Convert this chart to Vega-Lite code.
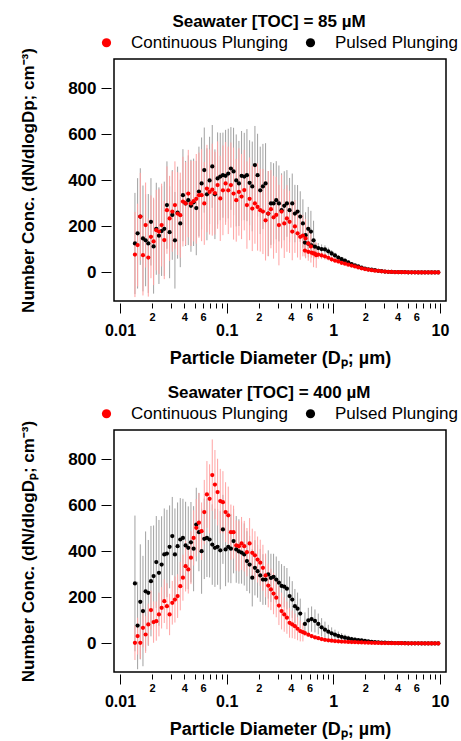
{
"$schema": "https://vega.github.io/schema/vega-lite/v6.json",
"background": "white",
"padding": {"left": 18, "top": 12, "right": 5, "bottom": 5},
"spacing": 15,
"config": {"view": {"stroke": "black", "strokeWidth": 1.5}},
"resolve": {"scale": {"color": "independent"}, "legend": {"color": "independent"}},
"datasets": {
"a": [
{"s":"P","d":0.0138,"y":126,"e":220},{"s":"P","d":0.01462,"y":170,"e":240},{"s":"P","d":0.01549,"y":243,"e":210},{"s":"P","d":0.01641,"y":148,"e":230},{"s":"P","d":0.01738,"y":140,"e":200},{"s":"P","d":0.01841,"y":126,"e":215},{"s":"P","d":0.0195,"y":220,"e":190},{"s":"P","d":0.02065,"y":113,"e":205},{"s":"P","d":0.02188,"y":190,"e":200},{"s":"P","d":0.02317,"y":160,"e":210},{"s":"P","d":0.02455,"y":180,"e":195},{"s":"P","d":0.026,"y":190,"e":205},{"s":"P","d":0.02754,"y":293,"e":190},{"s":"P","d":0.02917,"y":175,"e":200},{"s":"P","d":0.0309,"y":250,"e":195},{"s":"P","d":0.03273,"y":140,"e":210},{"s":"P","d":0.03467,"y":260,"e":200},{"s":"P","d":0.03673,"y":213,"e":190},{"s":"P","d":0.0389,"y":336,"e":200},{"s":"P","d":0.04121,"y":300,"e":185},{"s":"P","d":0.04365,"y":314,"e":195},{"s":"P","d":0.04624,"y":290,"e":200},{"s":"P","d":0.04898,"y":305,"e":190},{"s":"P","d":0.05188,"y":280,"e":205},{"s":"P","d":0.05495,"y":352,"e":195},{"s":"P","d":0.05821,"y":387,"e":200},{"s":"P","d":0.06166,"y":445,"e":185},{"s":"P","d":0.06531,"y":340,"e":200},{"s":"P","d":0.06918,"y":400,"e":190},{"s":"P","d":0.07328,"y":461,"e":180},{"s":"P","d":0.07762,"y":340,"e":195},{"s":"P","d":0.08222,"y":409,"e":200},{"s":"P","d":0.0871,"y":417,"e":190},{"s":"P","d":0.09226,"y":423,"e":185},{"s":"P","d":0.09772,"y":420,"e":200},{"s":"P","d":0.1035,"y":430,"e":195},{"s":"P","d":0.1096,"y":452,"e":180},{"s":"P","d":0.1161,"y":439,"e":190},{"s":"P","d":0.123,"y":400,"e":200},{"s":"P","d":0.1303,"y":387,"e":185},{"s":"P","d":0.138,"y":420,"e":195},{"s":"P","d":0.1462,"y":417,"e":190},{"s":"P","d":0.1549,"y":423,"e":200},{"s":"P","d":0.1641,"y":390,"e":185},{"s":"P","d":0.1738,"y":374,"e":195},{"s":"P","d":0.1841,"y":467,"e":170},{"s":"P","d":0.195,"y":423,"e":180},{"s":"P","d":0.2065,"y":357,"e":190},{"s":"P","d":0.2188,"y":374,"e":185},{"s":"P","d":0.2317,"y":387,"e":175},{"s":"P","d":0.2455,"y":256,"e":185},{"s":"P","d":0.26,"y":300,"e":180},{"s":"P","d":0.2754,"y":300,"e":175},{"s":"P","d":0.2917,"y":314,"e":170},{"s":"P","d":0.309,"y":300,"e":165},{"s":"P","d":0.3273,"y":271,"e":160},{"s":"P","d":0.3467,"y":290,"e":150},{"s":"P","d":0.3673,"y":300,"e":145},{"s":"P","d":0.389,"y":271,"e":140},{"s":"P","d":0.4121,"y":300,"e":130},{"s":"P","d":0.4365,"y":256,"e":125},{"s":"P","d":0.4624,"y":265,"e":115},{"s":"P","d":0.4898,"y":243,"e":110},{"s":"P","d":0.5188,"y":213,"e":105},{"s":"P","d":0.5495,"y":162,"e":100},{"s":"P","d":0.5821,"y":190,"e":95},{"s":"P","d":0.6166,"y":178,"e":90},{"s":"P","d":0.6531,"y":140,"e":85},
{"s":"P","d":0.542,"y":130,"e":30},{"s":"P","d":0.583,"y":125,"e":28},{"s":"P","d":0.626,"y":118,"e":26},{"s":"P","d":0.673,"y":112,"e":24},{"s":"P","d":0.723,"y":106,"e":22},{"s":"P","d":0.777,"y":102,"e":20},{"s":"P","d":0.835,"y":100,"e":18},{"s":"P","d":0.898,"y":92,"e":16},{"s":"P","d":0.965,"y":83,"e":14},{"s":"P","d":1.037,"y":74,"e":12},{"s":"P","d":1.114,"y":65,"e":11},{"s":"P","d":1.197,"y":58,"e":10},{"s":"P","d":1.286,"y":52,"e":9},{"s":"P","d":1.382,"y":44,"e":8},{"s":"P","d":1.486,"y":36,"e":7},{"s":"P","d":1.596,"y":31,"e":6},{"s":"P","d":1.715,"y":26,"e":5},{"s":"P","d":1.843,"y":21,"e":4},{"s":"P","d":1.981,"y":17,"e":3},{"s":"P","d":2.129,"y":14,"e":3},{"s":"P","d":2.288,"y":12,"e":2},{"s":"P","d":2.458,"y":10,"e":2},{"s":"P","d":2.642,"y":7,"e":2},{"s":"P","d":2.839,"y":5.5,"e":1},{"s":"P","d":3.051,"y":4,"e":1},{"s":"P","d":3.278,"y":3,"e":1},{"s":"P","d":3.523,"y":2.4,"e":1},{"s":"P","d":3.786,"y":1.9,"e":0.5},{"s":"P","d":4.068,"y":1.5,"e":0.5},{"s":"P","d":4.371,"y":1.2,"e":0.5},{"s":"P","d":4.698,"y":1,"e":0.4},{"s":"P","d":5.048,"y":0.8,"e":0.3},{"s":"P","d":5.425,"y":0.6,"e":0.3},{"s":"P","d":5.829,"y":0.5,"e":0.2},{"s":"P","d":6.264,"y":0.4,"e":0.2},{"s":"P","d":6.732,"y":0.3,"e":0.2},{"s":"P","d":7.234,"y":0.3,"e":0.1},{"s":"P","d":7.774,"y":0.2,"e":0.1},{"s":"P","d":8.354,"y":0.2,"e":0.1},{"s":"P","d":8.977,"y":0.1,"e":0.1},{"s":"P","d":9.647,"y":0.1,"e":0.1},
{"s":"C","d":0.0138,"y":78,"e":185},{"s":"C","d":0.01462,"y":119,"e":180},{"s":"C","d":0.01549,"y":243,"e":190},{"s":"C","d":0.01641,"y":75,"e":175},{"s":"C","d":0.01738,"y":206,"e":185},{"s":"C","d":0.01841,"y":65,"e":170},{"s":"C","d":0.0195,"y":155,"e":180},{"s":"C","d":0.02065,"y":135,"e":190},{"s":"C","d":0.02188,"y":184,"e":175},{"s":"C","d":0.02317,"y":178,"e":185},{"s":"C","d":0.02455,"y":206,"e":180},{"s":"C","d":0.026,"y":141,"e":170},{"s":"C","d":0.02754,"y":271,"e":190},{"s":"C","d":0.02917,"y":235,"e":185},{"s":"C","d":0.0309,"y":265,"e":175},{"s":"C","d":0.03273,"y":293,"e":190},{"s":"C","d":0.03467,"y":256,"e":180},{"s":"C","d":0.03673,"y":249,"e":185},{"s":"C","d":0.0389,"y":308,"e":195},{"s":"C","d":0.04121,"y":300,"e":180},{"s":"C","d":0.04365,"y":343,"e":190},{"s":"C","d":0.04624,"y":300,"e":185},{"s":"C","d":0.04898,"y":310,"e":175},{"s":"C","d":0.05188,"y":320,"e":195},{"s":"C","d":0.05495,"y":336,"e":185},{"s":"C","d":0.05821,"y":336,"e":200},{"s":"C","d":0.06166,"y":300,"e":180},{"s":"C","d":0.06531,"y":365,"e":190},{"s":"C","d":0.06918,"y":350,"e":185},{"s":"C","d":0.07328,"y":360,"e":200},{"s":"C","d":0.07762,"y":345,"e":180},{"s":"C","d":0.08222,"y":380,"e":190},{"s":"C","d":0.0871,"y":322,"e":185},{"s":"C","d":0.09226,"y":357,"e":195},{"s":"C","d":0.09772,"y":387,"e":180},{"s":"C","d":0.1035,"y":357,"e":190},{"s":"C","d":0.1096,"y":380,"e":185},{"s":"C","d":0.1161,"y":343,"e":200},{"s":"C","d":0.123,"y":314,"e":180},{"s":"C","d":0.1303,"y":350,"e":190},{"s":"C","d":0.138,"y":330,"e":185},{"s":"C","d":0.1462,"y":358,"e":175},{"s":"C","d":0.1549,"y":293,"e":190},{"s":"C","d":0.1641,"y":320,"e":180},{"s":"C","d":0.1738,"y":278,"e":185},{"s":"C","d":0.1841,"y":300,"e":175},{"s":"C","d":0.195,"y":285,"e":190},{"s":"C","d":0.2065,"y":271,"e":180},{"s":"C","d":0.2188,"y":265,"e":185},{"s":"C","d":0.2317,"y":227,"e":175},{"s":"C","d":0.2455,"y":256,"e":185},{"s":"C","d":0.26,"y":275,"e":170},{"s":"C","d":0.2754,"y":240,"e":180},{"s":"C","d":0.2917,"y":250,"e":165},{"s":"C","d":0.309,"y":206,"e":175},{"s":"C","d":0.3273,"y":265,"e":160},{"s":"C","d":0.3467,"y":213,"e":150},{"s":"C","d":0.3673,"y":235,"e":145},{"s":"C","d":0.389,"y":220,"e":135},{"s":"C","d":0.4121,"y":178,"e":125},{"s":"C","d":0.4365,"y":200,"e":115},{"s":"C","d":0.4624,"y":170,"e":105},{"s":"C","d":0.4898,"y":155,"e":100},{"s":"C","d":0.5188,"y":160,"e":90},{"s":"C","d":0.5495,"y":148,"e":85},{"s":"C","d":0.5821,"y":126,"e":75},{"s":"C","d":0.6166,"y":113,"e":70},{"s":"C","d":0.6531,"y":83,"e":60},{"s":"C","d":0.6918,"y":75,"e":55},
{"s":"C","d":0.542,"y":95,"e":25},{"s":"C","d":0.583,"y":90,"e":24},{"s":"C","d":0.626,"y":86,"e":22},{"s":"C","d":0.673,"y":82,"e":20},{"s":"C","d":0.723,"y":78,"e":18},{"s":"C","d":0.777,"y":74,"e":16},{"s":"C","d":0.835,"y":70,"e":14},{"s":"C","d":0.898,"y":64,"e":12},{"s":"C","d":0.965,"y":57,"e":11},{"s":"C","d":1.037,"y":52,"e":10},{"s":"C","d":1.114,"y":48,"e":9},{"s":"C","d":1.197,"y":42,"e":8},{"s":"C","d":1.286,"y":38,"e":7},{"s":"C","d":1.382,"y":34,"e":6},{"s":"C","d":1.486,"y":30,"e":5},{"s":"C","d":1.596,"y":26,"e":5},{"s":"C","d":1.715,"y":22,"e":4},{"s":"C","d":1.843,"y":18,"e":4},{"s":"C","d":1.981,"y":15,"e":3},{"s":"C","d":2.129,"y":12,"e":3},{"s":"C","d":2.288,"y":10,"e":2},{"s":"C","d":2.458,"y":8,"e":2},{"s":"C","d":2.642,"y":7,"e":2},{"s":"C","d":2.839,"y":5,"e":1},{"s":"C","d":3.051,"y":4,"e":1},{"s":"C","d":3.278,"y":3,"e":1},{"s":"C","d":3.523,"y":2.5,"e":1},{"s":"C","d":3.786,"y":2,"e":1},{"s":"C","d":4.068,"y":1.5,"e":0.5},{"s":"C","d":4.371,"y":1.2,"e":0.5},{"s":"C","d":4.698,"y":1,"e":0.5},{"s":"C","d":5.048,"y":0.8,"e":0.4},{"s":"C","d":5.425,"y":0.6,"e":0.3},{"s":"C","d":5.829,"y":0.5,"e":0.3},{"s":"C","d":6.264,"y":0.4,"e":0.2},{"s":"C","d":6.732,"y":0.3,"e":0.2},{"s":"C","d":7.234,"y":0.3,"e":0.2},{"s":"C","d":7.774,"y":0.2,"e":0.1},{"s":"C","d":8.354,"y":0.2,"e":0.1},{"s":"C","d":8.977,"y":0.1,"e":0.1},{"s":"C","d":9.647,"y":0.1,"e":0.1}
],
"b": [
{"s":"P","d":0.0138,"y":261,"e":295},{"s":"P","d":0.01462,"y":78,"e":190},{"s":"P","d":0.01549,"y":181,"e":250},{"s":"P","d":0.01641,"y":141,"e":240},{"s":"P","d":0.01738,"y":227,"e":260},{"s":"P","d":0.01841,"y":220,"e":230},{"s":"P","d":0.0195,"y":271,"e":240},{"s":"P","d":0.02065,"y":293,"e":220},{"s":"P","d":0.02188,"y":354,"e":200},{"s":"P","d":0.02317,"y":307,"e":230},{"s":"P","d":0.02455,"y":343,"e":210},{"s":"P","d":0.026,"y":387,"e":200},{"s":"P","d":0.02754,"y":391,"e":190},{"s":"P","d":0.02917,"y":420,"e":180},{"s":"P","d":0.0309,"y":467,"e":170},{"s":"P","d":0.03273,"y":387,"e":200},{"s":"P","d":0.03467,"y":423,"e":190},{"s":"P","d":0.03673,"y":452,"e":180},{"s":"P","d":0.0389,"y":459,"e":170},{"s":"P","d":0.04121,"y":426,"e":190},{"s":"P","d":0.04365,"y":416,"e":180},{"s":"P","d":0.04624,"y":440,"e":175},{"s":"P","d":0.04898,"y":412,"e":185},{"s":"P","d":0.05188,"y":517,"e":160},{"s":"P","d":0.05495,"y":484,"e":170},{"s":"P","d":0.05821,"y":401,"e":185},{"s":"P","d":0.06166,"y":455,"e":175},{"s":"P","d":0.06531,"y":459,"e":170},{"s":"P","d":0.06918,"y":452,"e":165},{"s":"P","d":0.07328,"y":430,"e":175},{"s":"P","d":0.07762,"y":416,"e":170},{"s":"P","d":0.08222,"y":420,"e":165},{"s":"P","d":0.0871,"y":405,"e":170},{"s":"P","d":0.09226,"y":496,"e":150},{"s":"P","d":0.09772,"y":409,"e":160},{"s":"P","d":0.1035,"y":420,"e":155},{"s":"P","d":0.1096,"y":412,"e":150},{"s":"P","d":0.1161,"y":445,"e":140},{"s":"P","d":0.123,"y":409,"e":145},{"s":"P","d":0.1303,"y":400,"e":140},{"s":"P","d":0.138,"y":395,"e":135},{"s":"P","d":0.1462,"y":387,"e":135},{"s":"P","d":0.1549,"y":358,"e":130},{"s":"P","d":0.1641,"y":343,"e":125},{"s":"P","d":0.1738,"y":286,"e":125},{"s":"P","d":0.1841,"y":329,"e":120},{"s":"P","d":0.195,"y":314,"e":115},{"s":"P","d":0.2065,"y":296,"e":115},{"s":"P","d":0.2188,"y":278,"e":110},{"s":"P","d":0.2317,"y":278,"e":110},{"s":"P","d":0.2455,"y":300,"e":105},{"s":"P","d":0.26,"y":285,"e":105},{"s":"P","d":0.2754,"y":290,"e":100},{"s":"P","d":0.2917,"y":278,"e":100},{"s":"P","d":0.309,"y":264,"e":95},{"s":"P","d":0.3273,"y":250,"e":95},{"s":"P","d":0.3467,"y":247,"e":90},{"s":"P","d":0.3673,"y":238,"e":90},{"s":"P","d":0.389,"y":206,"e":85},{"s":"P","d":0.4121,"y":191,"e":80},{"s":"P","d":0.4365,"y":162,"e":75},{"s":"P","d":0.4624,"y":151,"e":70},{"s":"P","d":0.4898,"y":130,"e":65},
{"s":"P","d":0.542,"y":85,"e":50},{"s":"P","d":0.583,"y":100,"e":55},{"s":"P","d":0.626,"y":106,"e":55},{"s":"P","d":0.673,"y":98,"e":50},{"s":"P","d":0.723,"y":85,"e":45},{"s":"P","d":0.777,"y":70,"e":40},{"s":"P","d":0.835,"y":60,"e":35},{"s":"P","d":0.898,"y":51,"e":30},{"s":"P","d":0.965,"y":44,"e":26},{"s":"P","d":1.037,"y":38,"e":22},{"s":"P","d":1.114,"y":33,"e":19},{"s":"P","d":1.197,"y":29,"e":16},{"s":"P","d":1.286,"y":25,"e":14},{"s":"P","d":1.382,"y":22,"e":12},{"s":"P","d":1.486,"y":19,"e":10},{"s":"P","d":1.596,"y":17,"e":9},{"s":"P","d":1.715,"y":15,"e":8},{"s":"P","d":1.843,"y":13,"e":7},{"s":"P","d":1.981,"y":11,"e":6},{"s":"P","d":2.129,"y":9,"e":5},{"s":"P","d":2.288,"y":7.5,"e":4},{"s":"P","d":2.458,"y":6,"e":3},{"s":"P","d":2.642,"y":5,"e":3},{"s":"P","d":2.839,"y":4,"e":2},{"s":"P","d":3.051,"y":3.3,"e":2},{"s":"P","d":3.278,"y":2.7,"e":1},{"s":"P","d":3.523,"y":2.2,"e":1},{"s":"P","d":3.786,"y":1.8,"e":1},{"s":"P","d":4.068,"y":1.5,"e":1},{"s":"P","d":4.371,"y":1.2,"e":0.5},{"s":"P","d":4.698,"y":1,"e":0.5},{"s":"P","d":5.048,"y":0.8,"e":0.4},{"s":"P","d":5.425,"y":0.7,"e":0.3},{"s":"P","d":5.829,"y":0.6,"e":0.3},{"s":"P","d":6.264,"y":0.5,"e":0.2},{"s":"P","d":6.732,"y":0.4,"e":0.2},{"s":"P","d":7.234,"y":0.4,"e":0.2},{"s":"P","d":7.774,"y":0.3,"e":0.1},{"s":"P","d":8.354,"y":0.3,"e":0.1},{"s":"P","d":8.977,"y":0.2,"e":0.1},{"s":"P","d":9.647,"y":0.2,"e":0.1},
{"s":"C","d":0.0138,"y":3,"e":75},{"s":"C","d":0.01462,"y":32,"e":80},{"s":"C","d":0.01549,"y":3,"e":70},{"s":"C","d":0.01641,"y":68,"e":85},{"s":"C","d":0.01738,"y":39,"e":80},{"s":"C","d":0.01841,"y":83,"e":90},{"s":"C","d":0.0195,"y":145,"e":85},{"s":"C","d":0.02065,"y":93,"e":90},{"s":"C","d":0.02188,"y":97,"e":85},{"s":"C","d":0.02317,"y":126,"e":95},{"s":"C","d":0.02455,"y":155,"e":90},{"s":"C","d":0.026,"y":184,"e":95},{"s":"C","d":0.02754,"y":162,"e":100},{"s":"C","d":0.02917,"y":126,"e":90},{"s":"C","d":0.0309,"y":177,"e":95},{"s":"C","d":0.03273,"y":191,"e":100},{"s":"C","d":0.03467,"y":206,"e":95},{"s":"C","d":0.03673,"y":249,"e":105},{"s":"C","d":0.0389,"y":286,"e":100},{"s":"C","d":0.04121,"y":336,"e":110},{"s":"C","d":0.04365,"y":322,"e":105},{"s":"C","d":0.04624,"y":373,"e":115},{"s":"C","d":0.04898,"y":459,"e":120},{"s":"C","d":0.05188,"y":503,"e":125},{"s":"C","d":0.05495,"y":525,"e":130},{"s":"C","d":0.05821,"y":488,"e":125},{"s":"C","d":0.06166,"y":571,"e":140},{"s":"C","d":0.06531,"y":648,"e":145},{"s":"C","d":0.06918,"y":629,"e":150},{"s":"C","d":0.07328,"y":732,"e":155},{"s":"C","d":0.07762,"y":691,"e":150},{"s":"C","d":0.08222,"y":658,"e":145},{"s":"C","d":0.0871,"y":619,"e":140},{"s":"C","d":0.09226,"y":614,"e":135},{"s":"C","d":0.09772,"y":571,"e":130},{"s":"C","d":0.1035,"y":557,"e":125},{"s":"C","d":0.1096,"y":484,"e":120},{"s":"C","d":0.1161,"y":484,"e":115},{"s":"C","d":0.123,"y":426,"e":110},{"s":"C","d":0.1303,"y":423,"e":110},{"s":"C","d":0.138,"y":435,"e":115},{"s":"C","d":0.1462,"y":423,"e":110},{"s":"C","d":0.1549,"y":397,"e":105},{"s":"C","d":0.1641,"y":435,"e":110},{"s":"C","d":0.1738,"y":394,"e":105},{"s":"C","d":0.1841,"y":383,"e":105},{"s":"C","d":0.195,"y":365,"e":100},{"s":"C","d":0.2065,"y":351,"e":100},{"s":"C","d":0.2188,"y":329,"e":100},{"s":"C","d":0.2317,"y":296,"e":95},{"s":"C","d":0.2455,"y":252,"e":95},{"s":"C","d":0.26,"y":235,"e":90},{"s":"C","d":0.2754,"y":217,"e":90},{"s":"C","d":0.2917,"y":199,"e":85},{"s":"C","d":0.309,"y":165,"e":85},{"s":"C","d":0.3273,"y":141,"e":80},{"s":"C","d":0.3467,"y":126,"e":75},{"s":"C","d":0.3673,"y":112,"e":70},{"s":"C","d":0.389,"y":90,"e":65},{"s":"C","d":0.4121,"y":83,"e":60},{"s":"C","d":0.4365,"y":75,"e":55},{"s":"C","d":0.4624,"y":64,"e":50},{"s":"C","d":0.4898,"y":54,"e":45},{"s":"C","d":0.5188,"y":49,"e":40},
{"s":"C","d":0.542,"y":45,"e":12},{"s":"C","d":0.583,"y":38,"e":10},{"s":"C","d":0.626,"y":32,"e":9},{"s":"C","d":0.673,"y":27,"e":8},{"s":"C","d":0.723,"y":23,"e":7},{"s":"C","d":0.777,"y":19,"e":6},{"s":"C","d":0.835,"y":16,"e":5},{"s":"C","d":0.898,"y":14,"e":5},{"s":"C","d":0.965,"y":12,"e":4},{"s":"C","d":1.037,"y":10.5,"e":4},{"s":"C","d":1.114,"y":9.5,"e":3},{"s":"C","d":1.197,"y":8.5,"e":3},{"s":"C","d":1.286,"y":7.5,"e":3},{"s":"C","d":1.382,"y":6.5,"e":2},{"s":"C","d":1.486,"y":6,"e":2},{"s":"C","d":1.596,"y":5.5,"e":2},{"s":"C","d":1.715,"y":5,"e":2},{"s":"C","d":1.843,"y":4.5,"e":2},{"s":"C","d":1.981,"y":4,"e":1},{"s":"C","d":2.129,"y":3.5,"e":1},{"s":"C","d":2.288,"y":3,"e":1},{"s":"C","d":2.458,"y":2.6,"e":1},{"s":"C","d":2.642,"y":2.3,"e":1},{"s":"C","d":2.839,"y":2,"e":1},{"s":"C","d":3.051,"y":1.8,"e":1},{"s":"C","d":3.278,"y":1.6,"e":0.5},{"s":"C","d":3.523,"y":1.4,"e":0.5},{"s":"C","d":3.786,"y":1.2,"e":0.5},{"s":"C","d":4.068,"y":1.1,"e":0.5},{"s":"C","d":4.371,"y":1,"e":0.4},{"s":"C","d":4.698,"y":0.9,"e":0.4},{"s":"C","d":5.048,"y":0.8,"e":0.3},{"s":"C","d":5.425,"y":0.7,"e":0.3},{"s":"C","d":5.829,"y":0.6,"e":0.3},{"s":"C","d":6.264,"y":0.5,"e":0.2},{"s":"C","d":6.732,"y":0.5,"e":0.2},{"s":"C","d":7.234,"y":0.4,"e":0.2},{"s":"C","d":7.774,"y":0.4,"e":0.2},{"s":"C","d":8.354,"y":0.3,"e":0.1},{"s":"C","d":8.977,"y":0.3,"e":0.1},{"s":"C","d":9.647,"y":0.3,"e":0.1}
]
},
"vconcat": [
{
"width": 332, "height": 242,
"data": {"name": "a"},
"title": {"text": "Seawater [TOC] = 85 µM", "font": "Liberation Sans", "fontSize": 17, "fontWeight": "bold", "color": "black", "frame": "group", "anchor": "middle", "offset": 3, "dx": -11},
"encoding": {
"x": {"field": "d", "type": "quantitative", "scale": {"type": "log", "domain": [0.00878, 11.4], "nice": false},
"axis": {"values": [0.01,0.02,0.03,0.04,0.05,0.06,0.07,0.08,0.09,0.1,0.2,0.3,0.4,0.5,0.6,0.7,0.8,0.9,1,2,3,4,5,6,7,8,9,10],
"domain": false, "grid": false, "offset": 2, "tickColor": "black", "tickWidth": 1,
"tickSize": {"condition": {"test": "abs(log(datum.value)/LN10 - round(log(datum.value)/LN10)) < 0.001", "value": 10}, "value": 5},
"labelExpr": "abs(log(datum.value)/LN10 - round(log(datum.value)/LN10)) < 0.001 ? format(datum.value, '~g') : (indexof([2,4,6], round(datum.value / pow(10, floor(log(datum.value)/LN10 + 0.000001)))) >= 0 ? '' + round(datum.value / pow(10, floor(log(datum.value)/LN10 + 0.000001))) : '')",
"labelFont": "Liberation Sans", "labelFontWeight": "bold", "labelColor": "black",
"labelFontSize": {"condition": {"test": "abs(log(datum.value)/LN10 - round(log(datum.value)/LN10)) < 0.001", "value": 16}, "value": 11},
"labelPadding": {"condition": {"test": "abs(log(datum.value)/LN10 - round(log(datum.value)/LN10)) < 0.001", "value": 9}, "value": 3},
"labelBaseline": "top", "labelOverlap": false, "labelFlush": false,
"title": "Particle Diameter (Dₚ; µm)", "titleFont": "Liberation Sans", "titleFontSize": 18, "titleFontWeight": "bold", "titleColor": "black", "titlePadding": 11}},
"y": {"field": "y", "type": "quantitative", "scale": {"domain": [-124, 928], "nice": false, "zero": false},
"axis": {"values": [0,200,400,600,800], "domain": false, "grid": false, "offset": 3, "tickSize": 10, "tickColor": "black",
"labelFont": "Liberation Sans", "labelFontWeight": "bold", "labelFontSize": 17, "labelColor": "black", "labelPadding": 5,
"title": "Number Conc. (dN/dlogDp; cm⁻³)", "titleFont": "Liberation Sans", "titleFontSize": 17, "titleFontWeight": "bold", "titleColor": "black", "titlePadding": 30}}
},
"layer": [
{"transform": [{"filter": "datum.s == 'P'"}], "mark": {"type": "errorbar", "color": "#a0a0a0", "thickness": 1}, "encoding": {"yError": {"field": "e"}}},
{"transform": [{"filter": "datum.s == 'C'"}], "mark": {"type": "errorbar", "color": "#ffa3a3", "thickness": 1}, "encoding": {"yError": {"field": "e"}}},
{"transform": [{"filter": "datum.s == 'P'"}], "mark": {"type": "circle", "size": 18, "opacity": 1},
"encoding": {"color": {"field": "s", "type": "nominal", "scale": {"domain": ["C", "P"], "range": ["#ff0000", "#000000"]},
"legend": {"orient": "none", "legendX": -16, "legendY": -25, "direction": "horizontal", "title": null, "labelExpr": "datum.value == 'C' ? 'Continuous Plunging' : 'Pulsed Plunging'", "labelFont": "Liberation Sans", "labelFontSize": 17, "labelColor": "black", "labelLimit": 300, "symbolType": "circle", "symbolSize": 85, "symbolStrokeWidth": 0, "labelOffset": 16, "columnPadding": 14, "padding": 0}}}},
{"transform": [{"filter": "datum.s == 'C'"}], "mark": {"type": "circle", "size": 18, "opacity": 1},
"encoding": {"color": {"field": "s", "type": "nominal", "scale": {"domain": ["C", "P"], "range": ["#ff0000", "#000000"]}}}},
{"data": {"values": [{"t": "(a.)"}]}, "mark": {"type": "text", "align": "left", "baseline": "middle", "font": "Liberation Sans", "fontSize": 15, "color": "black"},
"encoding": {"x": {"datum": 0.0102}, "y": {"datum": 852}, "text": {"field": "t"}}}
]
},
{
"width": 332, "height": 242,
"data": {"name": "b"},
"title": {"text": "Seawater [TOC] = 400 µM", "font": "Liberation Sans", "fontSize": 17, "fontWeight": "bold", "color": "black", "frame": "group", "anchor": "middle", "offset": 3, "dx": -11},
"encoding": {
"x": {"field": "d", "type": "quantitative", "scale": {"type": "log", "domain": [0.00878, 11.4], "nice": false},
"axis": {"values": [0.01,0.02,0.03,0.04,0.05,0.06,0.07,0.08,0.09,0.1,0.2,0.3,0.4,0.5,0.6,0.7,0.8,0.9,1,2,3,4,5,6,7,8,9,10],
"domain": false, "grid": false, "offset": 2, "tickColor": "black", "tickWidth": 1,
"tickSize": {"condition": {"test": "abs(log(datum.value)/LN10 - round(log(datum.value)/LN10)) < 0.001", "value": 10}, "value": 5},
"labelExpr": "abs(log(datum.value)/LN10 - round(log(datum.value)/LN10)) < 0.001 ? format(datum.value, '~g') : (indexof([2,4,6], round(datum.value / pow(10, floor(log(datum.value)/LN10 + 0.000001)))) >= 0 ? '' + round(datum.value / pow(10, floor(log(datum.value)/LN10 + 0.000001))) : '')",
"labelFont": "Liberation Sans", "labelFontWeight": "bold", "labelColor": "black",
"labelFontSize": {"condition": {"test": "abs(log(datum.value)/LN10 - round(log(datum.value)/LN10)) < 0.001", "value": 16}, "value": 11},
"labelPadding": {"condition": {"test": "abs(log(datum.value)/LN10 - round(log(datum.value)/LN10)) < 0.001", "value": 9}, "value": 3},
"labelBaseline": "top", "labelOverlap": false, "labelFlush": false,
"title": "Particle Diameter (Dₚ; µm)", "titleFont": "Liberation Sans", "titleFontSize": 18, "titleFontWeight": "bold", "titleColor": "black", "titlePadding": 11}},
"y": {"field": "y", "type": "quantitative", "scale": {"domain": [-124, 928], "nice": false, "zero": false},
"axis": {"values": [0,200,400,600,800], "domain": false, "grid": false, "offset": 3, "tickSize": 10, "tickColor": "black",
"labelFont": "Liberation Sans", "labelFontWeight": "bold", "labelFontSize": 17, "labelColor": "black", "labelPadding": 5,
"title": "Number Conc. (dN/dlogDₚ; cm⁻³)", "titleFont": "Liberation Sans", "titleFontSize": 17, "titleFontWeight": "bold", "titleColor": "black", "titlePadding": 30}}
},
"layer": [
{"transform": [{"filter": "datum.s == 'P'"}], "mark": {"type": "errorbar", "color": "#a0a0a0", "thickness": 1}, "encoding": {"yError": {"field": "e"}}},
{"transform": [{"filter": "datum.s == 'C'"}], "mark": {"type": "errorbar", "color": "#ffa3a3", "thickness": 1}, "encoding": {"yError": {"field": "e"}}},
{"transform": [{"filter": "datum.s == 'P'"}], "mark": {"type": "circle", "size": 18, "opacity": 1},
"encoding": {"color": {"field": "s", "type": "nominal", "scale": {"domain": ["C", "P"], "range": ["#ff0000", "#000000"]},
"legend": {"orient": "none", "legendX": -16, "legendY": -25, "direction": "horizontal", "title": null, "labelExpr": "datum.value == 'C' ? 'Continuous Plunging' : 'Pulsed Plunging'", "labelFont": "Liberation Sans", "labelFontSize": 17, "labelColor": "black", "labelLimit": 300, "symbolType": "circle", "symbolSize": 85, "symbolStrokeWidth": 0, "labelOffset": 16, "columnPadding": 14, "padding": 0}}}},
{"transform": [{"filter": "datum.s == 'C'"}], "mark": {"type": "circle", "size": 18, "opacity": 1},
"encoding": {"color": {"field": "s", "type": "nominal", "scale": {"domain": ["C", "P"], "range": ["#ff0000", "#000000"]}}}},
{"data": {"values": [{"t": "(b.)"}]}, "mark": {"type": "text", "align": "left", "baseline": "middle", "font": "Liberation Sans", "fontSize": 15, "color": "black"},
"encoding": {"x": {"datum": 0.0099}, "y": {"datum": 848}, "text": {"field": "t"}}}
]
}
]
}
